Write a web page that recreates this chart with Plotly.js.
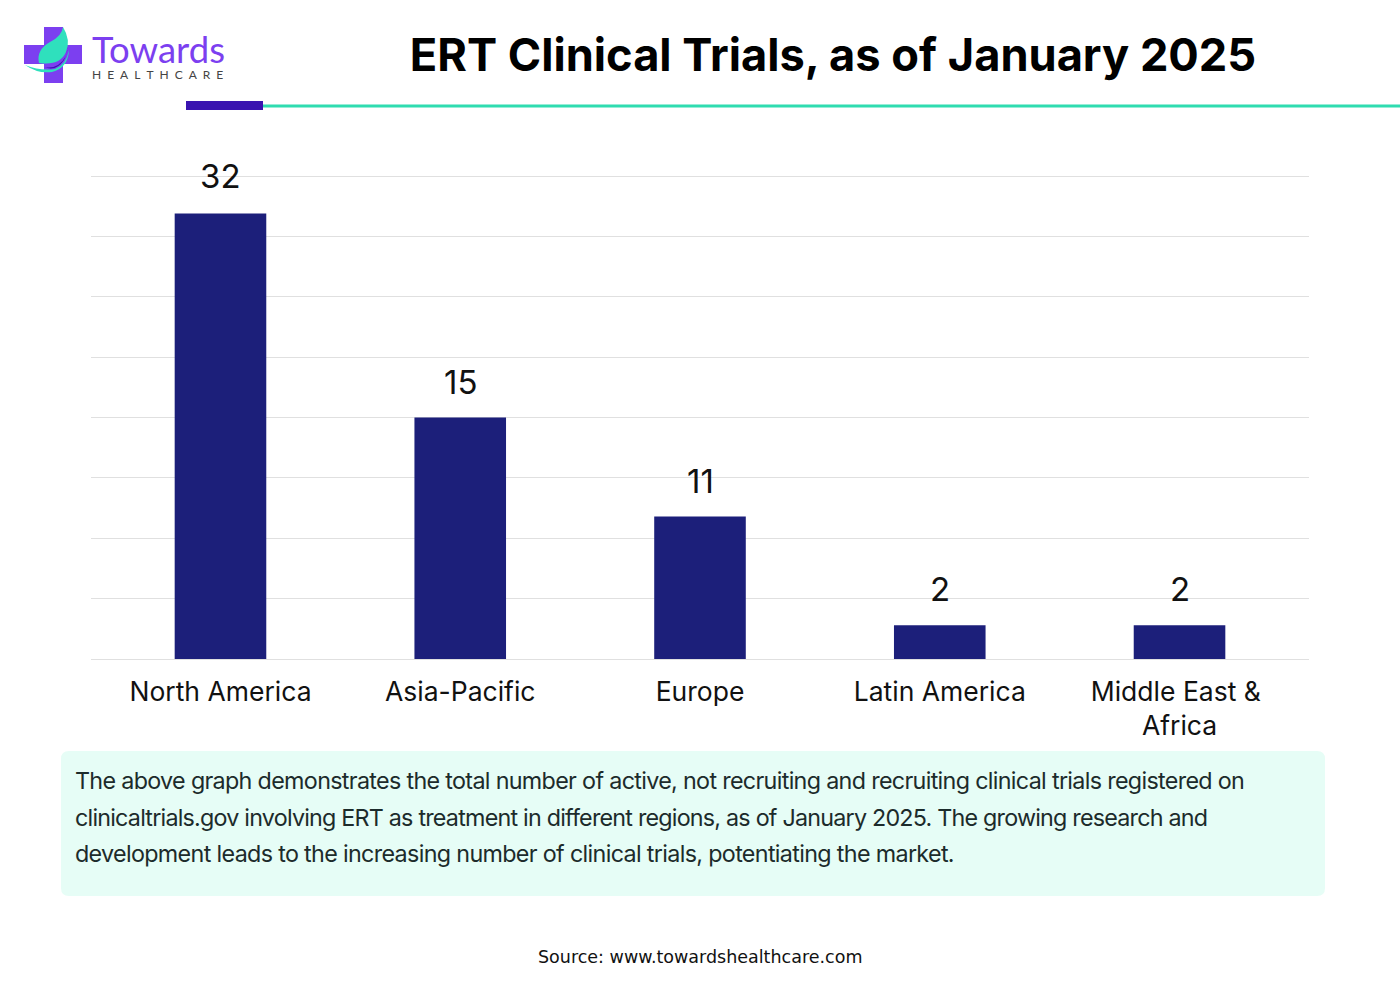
<!DOCTYPE html>
<html><head><meta charset="utf-8">
<script src="https://cdn.plot.ly/plotly-3.0.1.min.js"></script>
<style>html,body{margin:0;padding:0;background:#fff}#c{width:1400px;height:997px}</style>
</head><body><div id="c"></div>
<script>
const categories = ["North America","Asia-Pacific","Europe","Latin America","Middle East &\u00a0<br>Africa"];
const printedValues = [32,15,11,2,2];
// The reference's bars are not proportional to their printed labels, so drawn heights are read separately off its gridlines.
const drawnHeights = [36.9,20.0,11.8,2.8,2.8];
const titleText = "ERT Clinical Trials, as of January 2025";
const bodyLines = [
 "The above graph demonstrates the total number of active, not recruiting and recruiting clinical trials registered on",
 "clinicaltrials.gov involving ERT as treatment in different regions, as of January 2025. The growing research and",
 "development leads to the increasing number of clinical trials, potentiating the market."
];
const sourceText = "Source: www.towardshealthcare.com";
const logoWord = "Towards";
const logoSub = "H\u2002E\u2002A\u2002L\u2002T\u2002H\u2002C\u2002A\u2002R\u2002E";

const L=91,R=1309,T=174,B=659;
const px=x=>(x-L)/(R-L), py=y=>(B-y)/(B-T);
const P=(s)=>s.replace(/(-?[\d.]+),(-?[\d.]+)/g,(m,a,b)=>px(+a)+','+py(+b));
const pathShape=(d,color)=>({type:'path',xref:'paper',yref:'paper',path:P(d),fillcolor:color,line:{width:0},layer:'below'});
const rect=(x0,y0,x1,y1,color)=>({type:'rect',xref:'paper',yref:'paper',x0:px(x0),x1:px(x1),y0:py(y0),y1:py(y1),fillcolor:color,line:{width:0},layer:'below'});
const font="Inter, sans-serif";
const note=(x,y,text,size,color,anchor,extra)=>Object.assign({xref:'paper',yref:'paper',x:px(x),y:py(y),text,showarrow:false,xanchor:anchor,yanchor:'middle',font:{family:font,size,color},borderpad:0},extra||{});

const shapes=[
 rect(263,104.5,1400,107.5,'#2fdcb0'),
 rect(186,101,263,110,'#3a14b0'),
 pathShape("M 69,751 L 1317,751 Q 1325,751 1325,759 L 1325,888 Q 1325,896 1317,896 L 69,896 Q 61,896 61,888 L 61,759 Q 61,751 69,751 Z",'#e6fdf6'),
 rect(44,27,63,83,'#7c3ff0'),
 rect(24,45,82,64,'#7c3ff0'),
 pathShape("M 44,67 Q 58,70 66,56 Q 69,47 66,33 Q 70,50 64,60 Q 56,72 44,67 Z",'#3a14b0'),
 pathShape("M 63,27 Q 71,40 66,52 Q 60,66 39,63 Q 36,50 50,42 Q 62,36 63,27 Z",'#2fe0bd'),
 pathShape("M 25,65 Q 40,71 55,69 Q 66,65 69,50 Q 68,68 52,72 Q 38,74 25,65 Z",'#2fe0bd')
];
const annotations=[
 note(91,55,`<span style="font-size:36.5px;color:#7c3ff0">${logoWord}</span><br><span style="font-size:12px;color:#444">${logoSub}</span>`,12,'#7c3ff0','left',{align:'left',font:{family:"Lato, sans-serif",size:12,color:'#7c3ff0'}}),
 note(73.5,780.5,bodyLines[0],23.3,'#1c2b2b','left',{align:'left'}),
 note(73.5,817.5,bodyLines[1],23.3,'#1c2b2b','left',{align:'left'}),
 note(73.5,853.5,bodyLines[2],23.3,'#1c2b2b','left',{align:'left'}),
 note(700,957,sourceText,17.5,'#111','center',{font:{family:"DejaVu Sans, sans-serif",size:17.5,color:'#111'}})
];
categories.forEach((c,i)=>annotations.push({x:i,y:drawnHeights[i],xref:'x',yref:'y',text:String(printedValues[i]),showarrow:false,yanchor:'middle',yshift:i==0?37:36,font:{family:font,size:33,color:'#111'}}));

Plotly.newPlot('c',[{
 type:'bar',x:categories.map((c,i)=>i),y:drawnHeights,width:0.382,
 marker:{color:'#1c1f7a',line:{width:0}},hoverinfo:'skip'
}],{
 width:1400,height:997,paper_bgcolor:'#fff',plot_bgcolor:'rgba(0,0,0,0)',
 margin:{l:L,r:1400-R,t:T,b:997-B,pad:0},showlegend:false,
 title:{text:titleText,x:833/1400,xanchor:'center',y:1-55/997,yanchor:'middle',yref:'container',xref:'container',font:{family:font,size:45.2,color:'#000',weight:700}},
 xaxis:{type:'linear',range:[-0.54,4.54],tickmode:'array',tickvals:categories.map((c,i)=>i),ticktext:categories,showgrid:false,zeroline:false,ticks:'',ticklen:0,ticklabelstandoff:9,
   showline:true,linecolor:'#e0e0e0',linewidth:1,tickfont:{family:font,size:26.5,color:'#111'},automargin:false},
 yaxis:{range:[0,40.17],tick0:0,dtick:5,showticklabels:false,gridcolor:'#e0e0e0',gridwidth:1,zeroline:false,ticks:'',automargin:false},
 shapes,annotations
},{staticPlot:true,displayModeBar:false}).then(()=>{
 const spacing=['-0.67px','-0.78px','-0.66px'];
 document.querySelectorAll('.annotation text').forEach(t=>{
  const i=bodyLines.indexOf(t.textContent);
  if(i>=0) t.style.letterSpacing=spacing[i];
 });
});
</script></body></html>
